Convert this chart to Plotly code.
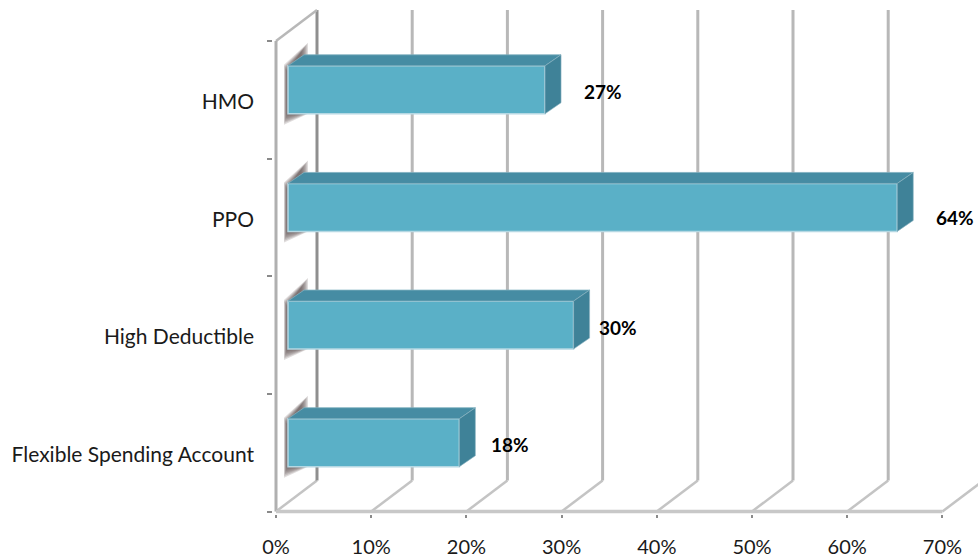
import plotly.graph_objects as go

# ---- data (bottom to top) ----
categories = ["Flexible Spending Account", "High Deductible", "PPO", "HMO"]
values = [18, 30, 64, 27]
value_labels = ["18%", "30%", "64%", "27%"]
x_ticks = [0, 10, 20, 30, 40, 50, 60, 70]
x_tick_labels = ["0%", "10%", "20%", "30%", "40%", "50%", "60%", "70%"]

# ---- style / geometry ----
W, H = 978, 560
AX_L, AX_B = 276, 512
PAD_L, PAD_B = 3, 2.5   # room so the axis strokes are not clipped
PX_X = 9.52      # pixels per percent
PX_Y = 117.75    # pixels per category band
xmin, xr = -PAD_L / PX_X, (W - AX_L) / PX_X
ymin, yr = -PAD_B / PX_Y, AX_B / PX_Y
WALL_DX, WALL_DY = 41 / PX_X, 31 / PX_Y
WALL_TOP = (AX_B - 10) / PX_Y
BAR_BASE = 12 / PX_X
BAR_W = 48 / PX_Y
BAR_OFF = 0.585
LABEL_OFF = 0.485
FACE_DX, FACE_DY = 16 / PX_X, 11 / PX_Y
value_gap_px = [51, 44, 58, 58]
value_dy_px = [-1.5, -2, -10, -2]
FONT = "Lato, Carlito, sans-serif"
GRID = "#b8b8b8"

def poly(pts):
    return "M " + " L ".join(f"{a:.4f} {b:.4f}" for a, b in pts) + " Z"

shapes = []
# gridlines on floor and back wall, behind the bars
for t in x_ticks:
    col = "#8f8f8f" if t == 0 else GRID
    shapes.append(dict(type="line", xref="x", yref="y", layer="below", x0=t, y0=0,
                       x1=t + WALL_DX, y1=WALL_DY, line=dict(color="#c4c4c4", width=2.5)))
    shapes.append(dict(type="line", xref="x", yref="y", layer="below", x0=t + WALL_DX, y0=WALL_DY,
                       x1=t + WALL_DX, y1=WALL_TOP, line=dict(color=col, width=3)))
# left wall
shapes.append(dict(type="line", xref="x", yref="y", layer="below", x0=0, y0=len(categories),
                   x1=WALL_DX, y1=WALL_TOP, line=dict(color="#b8b8b8", width=2.5)))
shapes.append(dict(type="line", xref="x", yref="y", layer="below", x0=0, y0=0,
                   x1=0, y1=len(categories), line=dict(color="#b0b0b0", width=3)))
# floor front edge
shapes.append(dict(type="line", xref="x", yref="y", layer="below", x0=0, y0=0,
                   x1=x_ticks[-1], y1=0, line=dict(color="#c8c8c8", width=3.5)))
# soft shadows cast on the left wall
for i in range(len(categories)):
    yc = i + BAR_OFF
    for inset in range(0, 7):
        s = inset * 1.1
        pts = [(8 + s * 0.4, 35 - s * 1.5), (8 + s * 0.4, -25 + s), (32 - s, -47 + s * 1.3),
               (32 - s, 24)]
        shapes.append(dict(type="path", xref="x", yref="y", layer="below", line_width=0,
                           fillcolor="rgba(95,78,78,0.2)",
                           path=poly([(a / PX_X, yc - b / PX_Y) for a, b in pts])))

fig = go.Figure()
ys = [i + BAR_OFF for i in range(len(categories))]

fig.add_trace(go.Bar(y=ys, x=values, base=BAR_BASE, orientation="h", width=BAR_W,
                     marker=dict(color="#5ab0c7", line=dict(color="#b5d8e3", width=1.5)),
                     showlegend=False, hoverinfo="skip"))

for v, y in zip(values, ys):
    x0, x1 = BAR_BASE, BAR_BASE + v
    top, bot = y + BAR_W / 2, y - BAR_W / 2
    fig.add_trace(go.Scatter(x=[x0, x1, x1 + FACE_DX, x0 + FACE_DX, x0],
                             y=[top, top, top + FACE_DY, top + FACE_DY, top],
                             mode="lines", fill="toself", fillcolor="#468ca3",
                             line=dict(color="#7fb0bf", width=0.8), showlegend=False, hoverinfo="skip"))
    fig.add_trace(go.Scatter(x=[x1, x1 + FACE_DX, x1 + FACE_DX, x1, x1],
                             y=[top, top + FACE_DY, bot + FACE_DY, bot, top],
                             mode="lines", fill="toself", fillcolor="#3f8298",
                             line=dict(color="#8fb6c3", width=0.6), showlegend=False, hoverinfo="skip"))

annotations = [dict(x=BAR_BASE + v + g / PX_X, y=y + d / PX_Y, xref="x", yref="y", text=f"<b>{t}</b>",
                    showarrow=False, font=dict(family=FONT, size=19, color="#000000"))
               for v, y, t, g, d in zip(values, ys, value_labels, value_gap_px, value_dy_px)]

fig.update_layout(
    width=W, height=H, paper_bgcolor="white", plot_bgcolor="rgba(0,0,0,0)",
    margin=dict(l=AX_L - PAD_L, r=0, t=0, b=H - AX_B - PAD_B, pad=0),
    showlegend=False, shapes=shapes, annotations=annotations,
    font=dict(family=FONT, size=20, color="#1a1a1a"),
    xaxis=dict(range=[xmin, xr], tickmode="array", tickvals=x_ticks, ticktext=x_tick_labels,
               showgrid=False, zeroline=False, showline=False, ticks="outside", ticklen=3,
               tickwidth=1.5, tickcolor="#8a8a8a", ticklabelstandoff=12),
    yaxis=dict(range=[ymin, yr], tickmode="array",
               tickvals=[i + LABEL_OFF for i in range(len(categories))], ticktext=categories,
               tickfont=dict(size=21),
               showgrid=False, zeroline=False, showline=False, ticks="",
               ticklabelstandoff=18,
               minor=dict(tickmode="array", tickvals=list(range(len(categories) + 1)), ticks="outside",
                          ticklen=5, tickwidth=1.5, tickcolor="#8a8a8a", showgrid=False)),
)
fig.write_html("out.html", config=dict(displayModeBar=False),
               post_script="document.body.style.margin='0';")
